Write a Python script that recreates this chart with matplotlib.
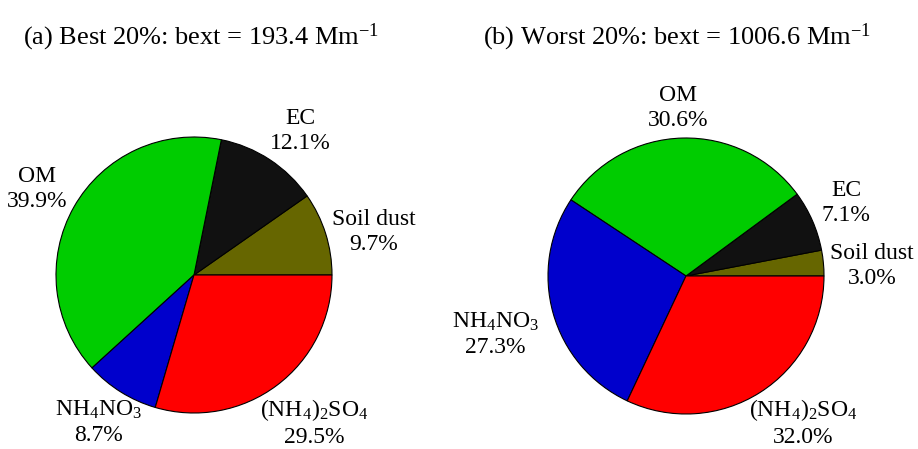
import matplotlib
matplotlib.use("Agg")
import matplotlib.pyplot as plt

plt.rcParams["font.family"] = ["Liberation Serif", "DejaVu Serif"]
plt.rcParams["mathtext.fontset"] = "custom"
plt.rcParams["mathtext.rm"] = "Liberation Serif"
plt.rcParams["mathtext.it"] = "Liberation Serif:italic"
plt.rcParams["mathtext.bf"] = "Liberation Serif:bold"

# Species contributions to light extinction (counter-clockwise from 3 o'clock)
species = ["Soil dust", "EC", "OM", "NH$_4$NO$_3$", "(NH$_4$)$_2$SO$_4$"]
colors = ["#666600", "#111111", "#00cc00", "#0000cc", "#ff0000"]
best_pct = [9.7, 12.1, 39.9, 8.7, 29.5]
worst_pct = [3.0, 7.1, 30.6, 27.3, 32.0]
titles = ["(a) Best 20%: bext = 193.4 Mm$^{-1}$",
          "(b) Worst 20%: bext = 1006.6 Mm$^{-1}$"]

W, H = 918, 449
fig = plt.figure(figsize=(W / 100, H / 100), dpi=100)
ax = fig.add_axes([0, 0, 1, 1])
ax.set_xlim(0, W)
ax.set_ylim(0, H)
ax.set_aspect("equal")
ax.axis("off")

R = 138
panels = [
    dict(center=(194, H - 275), values=best_pct, title=titles[0], tx=201,
         offsets=[(1.30, 0.31), (0.77, 1.04), (-1.14, 0.62), (-0.69, -1.07), (0.87, -1.07)]),
    dict(center=(686, H - 276), values=worst_pct, title=titles[1], tx=677,
         offsets=[(1.35, 0.07), (1.16, 0.53), (-0.06, 1.22), (-1.38, -0.42), (0.85, -1.06)]),
]

for p in panels:
    cx, cy = p["center"]
    ax.pie(p["values"], colors=colors, startangle=0, counterclock=True,
           center=(cx, cy), radius=R, normalize=True,
           wedgeprops=dict(edgecolor="black", linewidth=0.8))
    for name, val, (dx, dy) in zip(species, p["values"], p["offsets"]):
        ax.text(cx + dx * R, cy + dy * R, f"{name}\n{val:.1f}%",
                ha="center", va="center", multialignment="center",
                fontsize=17, linespacing=1.25)
    ax.text(p["tx"], H - 44, p["title"], ha="center", va="baseline", fontsize=19)

ax.set_xlim(0, W)
ax.set_ylim(0, H)
fig.savefig("out.png", dpi=100)
